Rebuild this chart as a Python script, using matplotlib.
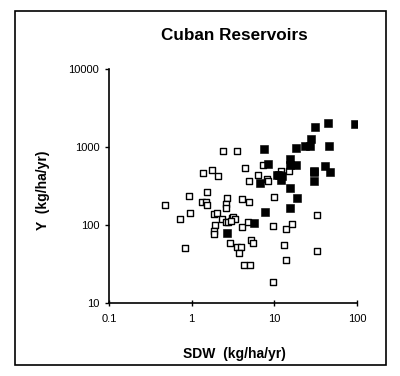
import matplotlib
matplotlib.use("Agg")
from matplotlib import pyplot as plt
from matplotlib.patches import Rectangle

plt.rcParams['font.family'] = ['Liberation Sans', 'DejaVu Sans']

# open squares
sdw_open = [0.47, 0.73, 0.82, 0.92, 0.95,
            1.36, 1.35, 1.48, 1.55, 1.52,
            1.77, 2.1, 1.85, 2.0, 1.9, 1.85, 1.85,
            2.3, 2.4, 2.65, 2.6, 2.6, 2.6, 2.75,
            2.9, 3.05, 3.2, 3.3, 3.0,
            3.55, 3.5, 3.9, 3.75, 4.1, 4.1, 4.4,
            4.3, 5.1, 4.9, 5.0, 4.85, 5.2, 5.5,
            6.3, 7.3, 8.05, 8.5, 9.9, 9.6, 9.7,
            11.9, 13.0, 13.8, 13.8, 15.0, 16.2, 32.4, 32.5]
y_open = [180, 118, 51, 238, 143,
          460, 195, 195, 262, 180,
          508, 425, 140, 143, 100, 85, 77,
          118, 900, 224, 185, 165, 110, 108,
          59, 122, 125, 120, 112,
          900, 52, 52, 44, 215, 95, 545,
          31, 31, 370, 195, 110, 65, 58,
          435, 580, 385, 365, 228, 97, 18.6,
          500, 55, 90, 36, 488, 104, 134, 47]

# filled squares
sdw_fill = [2.65, 5.7, 6.8, 7.5, 7.8, 8.5, 10.7, 11.5, 12.2, 12.5,
            15.4, 15.4, 18.5, 15.4, 18.6, 15.4, 18.2, 23.4, 27, 28,
            31, 44, 46, 41, 47, 30, 30, 30, 95]
y_fill = [78, 107, 350, 950, 145, 610, 440, 440, 375, 430,
          700, 590, 590, 300, 219, 163, 960, 1030, 1030, 1260,
          1800, 2060, 1030, 570, 480, 500, 480, 365, 1960]

fig = plt.figure(figsize=(4, 3.76), dpi=100)
ax = fig.add_axes([0.2725, 0.194, 0.62, 0.6225])

ax.scatter(sdw_open, y_open, marker='s', s=22, facecolors='white',
           edgecolors='black', linewidths=1.0, zorder=3)
ax.scatter(sdw_fill, y_fill, marker='s', s=29, facecolors='black',
           edgecolors='black', linewidths=0.4, zorder=4)

ax.set_xscale('log')
ax.set_yscale('log')
ax.set_xlim(0.1, 100)
ax.set_ylim(10, 10000)
ax.set_xticks([0.1, 1, 10, 100])
ax.set_xticklabels(['0.1', '1', '10', '100'])
ax.set_yticks([10, 100, 1000, 10000])
ax.set_yticklabels(['10', '100', '1000', '10000'])
ax.minorticks_off()
ax.tick_params(axis='x', direction='inout', length=4, width=1, labelsize=8, pad=6)
ax.tick_params(axis='y', direction='out', length=3, width=1, labelsize=8, pad=4)

ax.spines['top'].set_visible(False)
ax.spines['right'].set_visible(False)
ax.spines['left'].set_linewidth(1.2)
ax.spines['bottom'].set_linewidth(1.2)

ax.set_xlabel('SDW  (kg/ha/yr)', fontsize=10, fontweight='bold')
ax.set_ylabel('Y  (kg/ha/yr)', fontsize=10, fontweight='bold')
ax.xaxis.set_label_coords(0.504, -0.188)
ax.yaxis.set_label_coords(-0.238, 0.483)

fig.text(0.585, 0.905, 'Cuban Reservoirs', ha='center', va='center',
         fontsize=12.3, fontweight='bold')

frame = Rectangle((0.0375, 0.0293), 0.9275, 0.9415, transform=fig.transFigure,
                  fill=False, edgecolor='black', linewidth=1.2)
fig.patches.append(frame)

fig.savefig('out.png', dpi=100)
